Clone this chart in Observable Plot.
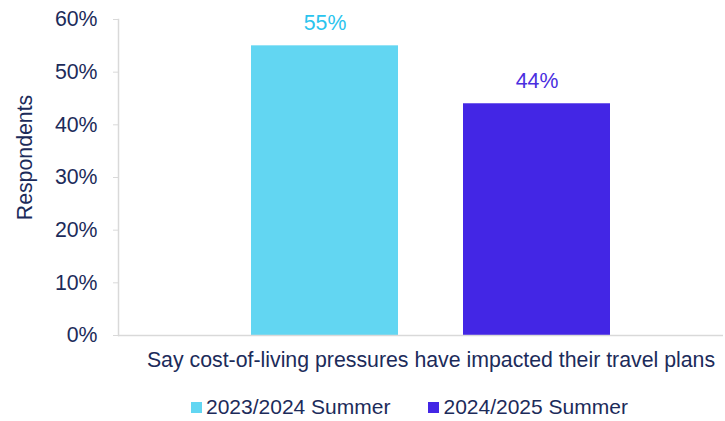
<!DOCTYPE html>
<html><head><meta charset="utf-8">
<script src="https://cdn.jsdelivr.net/npm/d3@7"></script>
<script src="https://cdn.jsdelivr.net/npm/@observablehq/plot@0.6"></script>
<style>
body{margin:0;background:#fff;font-family:"Liberation Sans",Arial,sans-serif;}
#chart svg{display:block;}
#legend{display:flex;align-items:center;height:36px;padding-left:191px;padding-top:8px;box-sizing:border-box;font-size:21px;color:#1c2b5a;}
#legend .item{display:flex;align-items:center;margin-right:38px;}
#legend .sw{width:11px;height:11px;margin-right:4px;}
</style></head><body><div id="chart"></div><div id="legend"></div><script>
const category = "Say cost-of-living pressures have impacted their travel plans";
const series = ["2023/2024 Summer", "2024/2025 Summer"];
const values = [0.55, 0.44];
const barColors = ["#62d6f2", "#4326e5"];
const labelColors = ["#2bc4ee", "#4a2ee0"];
const yTicks = [0, 0.1, 0.2, 0.3, 0.4, 0.5, 0.6];
const yLabel = "Respondents";

const data = series.map((s, i) => ({series: s, value: values[i]}));
const navy = "#1c2b5a";
const grey = "#d9d9d9";
const pct = d3.format(".0%");
const fs = 21.3;

const plot = Plot.plot({
  width: 725,
  height: 385,
  marginTop: 19,
  marginBottom: 50,
  marginLeft: 118,
  marginRight: 2,
  style: {fontFamily: '"Liberation Sans", Arial, sans-serif', fontSize: fs + "px", color: navy, background: "#fff"},
  x: {domain: series, range: [250, 611], paddingInner: 0.305, paddingOuter: 0, axis: null},
  y: {domain: [0, 0.6], axis: null},
  color: {domain: series, range: barColors},
  marks: [
    Plot.barY(data, {x: "series", y: "value", fill: "series"}),
    Plot.ruleY([0], {stroke: grey, strokeWidth: 1.5}),
    Plot.frame({anchor: "left", stroke: grey, strokeWidth: 1.5}),
    Plot.axisY({ticks: yTicks, tickFormat: pct, tickSize: 5, tickPadding: 16, stroke: grey, fill: navy, label: null, fontSize: fs}),
    Plot.text(data, {x: "series", y: "value", text: d => pct(d.value), fill: (d, i) => labelColors[i], lineAnchor: "bottom", dy: -16, fontSize: fs}),
    Plot.text([category], {frameAnchor: "bottom", text: d => d, dx: 10, dy: 31, fill: navy, fontSize: fs}),
    Plot.text([yLabel], {frameAnchor: "left", textAnchor: "middle", text: d => d, rotate: -90, dx: -93, dy: -20, fill: navy, fontSize: fs})
  ]
});
document.getElementById("chart").appendChild(plot);

const legend = document.getElementById("legend");
series.forEach((s, i) => {
  const item = document.createElement("div");
  item.className = "item";
  const sw = document.createElement("div");
  sw.className = "sw";
  sw.style.background = barColors[i];
  const t = document.createElement("span");
  t.textContent = s;
  item.appendChild(sw); item.appendChild(t);
  legend.appendChild(item);
});
</script></body></html>
